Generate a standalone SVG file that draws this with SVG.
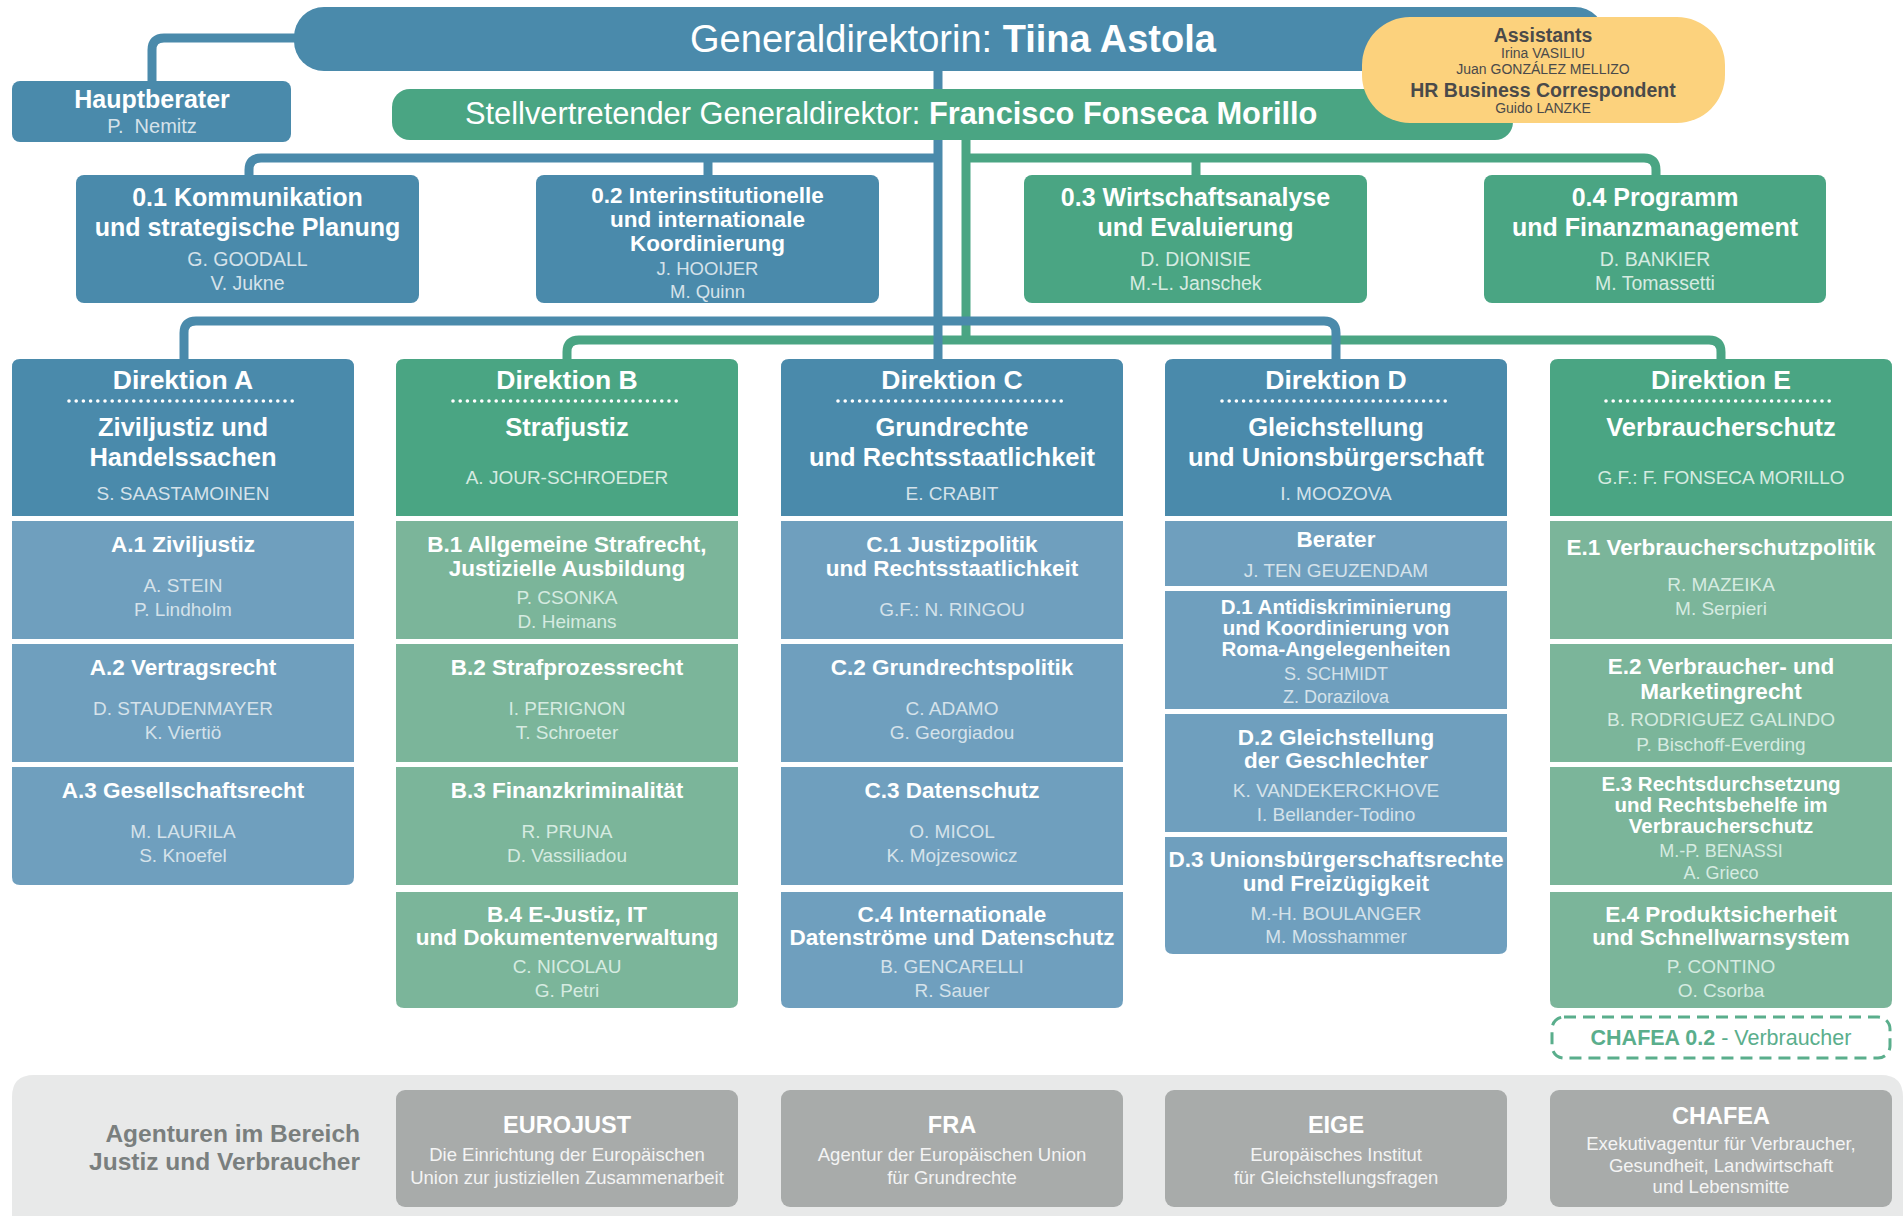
<svg xmlns="http://www.w3.org/2000/svg" width="1903" height="1216" viewBox="0 0 1903 1216">
<style>
text{font-family:"Liberation Sans",Arial,sans-serif;text-anchor:middle}
.bd{fill:#4a8aab}.gd{fill:#4aa583}.bl{fill:#6f9fbe}.gl{fill:#7bb59a}
.ln{fill:none;stroke-width:9;stroke-linejoin:round}
.lb{stroke:#4a8aab}.lg{stroke:#4aa583}
.dots{fill:none;stroke:#fff;stroke-width:3.6;stroke-linecap:round;stroke-dasharray:0 7.2}
.h1{font-size:26.5px;font-weight:bold;fill:#fff}
.h2{font-size:25.5px;font-weight:bold;fill:#fff}
.st{font-size:22.5px;font-weight:bold;fill:#fff}
.sts{font-size:20.5px;font-weight:bold;fill:#fff}
.ot{font-size:25px;font-weight:bold;fill:#fff}
.ots{font-size:22.5px;font-weight:bold;fill:#fff}
.nb{font-size:19px;fill:#d5e2ea}
.ng{font-size:19px;fill:#d6ebe1}
.nbs{font-size:18px;fill:#d5e2ea}
.ngs{font-size:18px;fill:#d6ebe1}
.on{font-size:19.5px;fill:#d5e2ea}
.ons{font-size:18.5px;fill:#d5e2ea}
.ong{font-size:19.5px;fill:#d6ebe1}
.as{fill:#4a4a4a}
.ag{fill:#a8abaa}
.at{font-size:23.5px;font-weight:bold;fill:#fff}
.ad{font-size:18.5px;fill:#f4f4f4}
</style>

<g id="agency-panel">
<path d="M12,1216 V1097 Q12,1075 34,1075 H1881 Q1903,1075 1903,1097 V1216 Z" fill="#e8e9e9"/>
<text x="360" y="1142" style="text-anchor:end;font-size:24.5px;font-weight:bold;fill:#7a7f7e">Agenturen im Bereich</text>
<text x="360" y="1170" style="text-anchor:end;font-size:24.5px;font-weight:bold;fill:#7a7f7e">Justiz und Verbraucher</text>
</g>

<g id="connectors">
<path class="ln lg" d="M966,140 V340"/>
<path class="ln lg" d="M966,158 H1644 Q1656,158 1656,170 V176"/>
<path class="ln lg" d="M1196,158 V176"/>
<path class="ln lg" d="M567,360 V352 Q567,340 579,340 H1709 Q1721,340 1721,352 V360"/>
<path class="ln lb" d="M152,82 V50 Q152,38 164,38 H300"/>
<path class="ln lb" d="M938,71 V360"/>
<path class="ln lb" d="M938,158 H261 Q249,158 249,170 V176"/>
<path class="ln lb" d="M708,158 V176"/>
<path class="ln lb" d="M184,360 V333 Q184,321 196,321 H1324 Q1336,321 1336,333 V360"/>
</g>

<g id="generaldirektorin">
<rect x="294" y="7" width="1311" height="64" rx="30" class="bd"/>
<text x="953" y="52" style="font-size:38px;fill:#fff">Generaldirektorin: <tspan font-weight="bold">Tiina Astola</tspan></text>
</g>

<g id="hauptberater">
<rect x="12" y="81" width="279" height="61" rx="8" class="bd"/>
<text x="152" y="108" style="font-size:25px;font-weight:bold;fill:#fff">Hauptberater</text>
<text x="152" y="133" style="font-size:20px;fill:#d5e2ea;white-space:pre">P.  Nemitz</text>
</g>

<g id="stellvertretender">
<rect x="392" y="89" width="1121" height="51" rx="18" class="gd"/>
<text x="465" y="124" style="text-anchor:start;font-size:30.8px;fill:#fff">Stellvertretender Generaldirektor: <tspan font-weight="bold">Francisco Fonseca Morillo</tspan></text>
</g>

<g id="assistants">
<rect x="1362" y="17" width="363" height="106" rx="48" fill="#fcd27d"/>
<text x="1543" y="42" class="as" style="font-size:19.5px;font-weight:bold">Assistants</text>
<text x="1543" y="58" class="as" style="font-size:14px">Irina VASILIU</text>
<text x="1543" y="74" class="as" style="font-size:14px">Juan GONZÁLEZ MELLIZO</text>
<text x="1543" y="97" class="as" style="font-size:19.5px;font-weight:bold">HR Business Correspondent</text>
<text x="1543" y="113" class="as" style="font-size:14px">Guido LANZKE</text>
</g>

<g id="unit-0-1">
<rect x="76" y="175" width="343" height="128" rx="8" class="bd"/>
<text x="247.5" y="206" class="ot">0.1 Kommunikation</text>
<text x="247.5" y="236" class="ot">und strategische Planung</text>
<text x="247.5" y="266" class="on">G. GOODALL</text>
<text x="247.5" y="290" class="on">V. Jukne</text>
</g>
<g id="unit-0-2">
<rect x="536" y="175" width="343" height="128" rx="8" class="bd"/>
<text x="707.5" y="203" class="ots">0.2 Interinstitutionelle</text>
<text x="707.5" y="227" class="ots">und internationale</text>
<text x="707.5" y="251" class="ots">Koordinierung</text>
<text x="707.5" y="275" class="ons">J. HOOIJER</text>
<text x="707.5" y="298" class="ons">M. Quinn</text>
</g>
<g id="unit-0-3">
<rect x="1024" y="175" width="343" height="128" rx="8" class="gd"/>
<text x="1195.5" y="206" class="ot">0.3 Wirtschaftsanalyse</text>
<text x="1195.5" y="236" class="ot">und Evaluierung</text>
<text x="1195.5" y="266" class="ong">D. DIONISIE</text>
<text x="1195.5" y="290" class="ong">M.-L. Janschek</text>
</g>
<g id="unit-0-4">
<rect x="1484" y="175" width="342" height="128" rx="8" class="gd"/>
<text x="1655" y="206" class="ot">0.4 Programm</text>
<text x="1655" y="236" class="ot">und Finanzmanagement</text>
<text x="1655" y="266" class="ong">D. BANKIER</text>
<text x="1655" y="290" class="ong">M. Tomassetti</text>
</g>

<g id="direktion-a">
<path class="bd" d="M12,516 V367 Q12,359 20,359 H346 Q354,359 354,367 V516 Z"/>
<text x="183" y="389" class="h1">Direktion A</text>
<path class="dots" d="M69,401 H298"/>
<text x="183" y="436" class="h2">Ziviljustiz und</text>
<text x="183" y="466" class="h2">Handelssachen</text>
<text x="183" y="500" class="nb">S. SAASTAMOINEN</text>
</g>
<g id="a1">
<rect x="12" y="521" width="342" height="118" class="bl"/>
<text x="183" y="552" class="st">A.1 Ziviljustiz</text>
<text x="183" y="592" class="nb">A. STEIN</text>
<text x="183" y="616" class="nb">P. Lindholm</text>
</g>
<g id="a2">
<rect x="12" y="644" width="342" height="118" class="bl"/>
<text x="183" y="675" class="st">A.2 Vertragsrecht</text>
<text x="183" y="715" class="nb">D. STAUDENMAYER</text>
<text x="183" y="739" class="nb">K. Viertiö</text>
</g>
<g id="a3">
<path class="bl" d="M12,767 H354 V877 Q354,885 346,885 H20 Q12,885 12,877 Z"/>
<text x="183" y="798" class="st">A.3 Gesellschaftsrecht</text>
<text x="183" y="838" class="nb">M. LAURILA</text>
<text x="183" y="862" class="nb">S. Knoefel</text>
</g>

<g id="direktion-b">
<path class="gd" d="M396,516 V367 Q396,359 404,359 H730 Q738,359 738,367 V516 Z"/>
<text x="567" y="389" class="h1">Direktion B</text>
<path class="dots" d="M453,401 H682"/>
<text x="567" y="436" class="h2">Strafjustiz</text>
<text x="567" y="484" class="ng">A. JOUR-SCHROEDER</text>
</g>
<g id="b1">
<rect x="396" y="521" width="342" height="118" class="gl"/>
<text x="567" y="552" class="st">B.1 Allgemeine Strafrecht,</text>
<text x="567" y="576" class="st">Justizielle Ausbildung</text>
<text x="567" y="604" class="ng">P. CSONKA</text>
<text x="567" y="628" class="ng">D. Heimans</text>
</g>
<g id="b2">
<rect x="396" y="644" width="342" height="118" class="gl"/>
<text x="567" y="675" class="st">B.2 Strafprozessrecht</text>
<text x="567" y="715" class="ng">I. PERIGNON</text>
<text x="567" y="739" class="ng">T. Schroeter</text>
</g>
<g id="b3">
<rect x="396" y="767" width="342" height="118" class="gl"/>
<text x="567" y="798" class="st">B.3 Finanzkriminalität</text>
<text x="567" y="838" class="ng">R. PRUNA</text>
<text x="567" y="862" class="ng">D. Vassiliadou</text>
</g>
<g id="b4">
<path class="gl" d="M396,892 H738 V1000 Q738,1008 730,1008 H404 Q396,1008 396,1000 Z"/>
<text x="567" y="922" class="st">B.4 E-Justiz, IT</text>
<text x="567" y="945" class="st">und Dokumentenverwaltung</text>
<text x="567" y="973" class="ng">C. NICOLAU</text>
<text x="567" y="997" class="ng">G. Petri</text>
</g>

<g id="direktion-c">
<path class="bd" d="M781,516 V367 Q781,359 789,359 H1115 Q1123,359 1123,367 V516 Z"/>
<text x="952" y="389" class="h1">Direktion C</text>
<path class="dots" d="M838,401 H1067"/>
<text x="952" y="436" class="h2">Grundrechte</text>
<text x="952" y="466" class="h2">und Rechtsstaatlichkeit</text>
<text x="952" y="500" class="nb">E. CRABIT</text>
</g>
<g id="c1">
<rect x="781" y="521" width="342" height="118" class="bl"/>
<text x="952" y="552" class="st">C.1 Justizpolitik</text>
<text x="952" y="576" class="st">und Rechtsstaatlichkeit</text>
<text x="952" y="616" class="nb">G.F.: N. RINGOU</text>
</g>
<g id="c2">
<rect x="781" y="644" width="342" height="118" class="bl"/>
<text x="952" y="675" class="st">C.2 Grundrechtspolitik</text>
<text x="952" y="715" class="nb">C. ADAMO</text>
<text x="952" y="739" class="nb">G. Georgiadou</text>
</g>
<g id="c3">
<rect x="781" y="767" width="342" height="118" class="bl"/>
<text x="952" y="798" class="st">C.3 Datenschutz</text>
<text x="952" y="838" class="nb">O. MICOL</text>
<text x="952" y="862" class="nb">K. Mojzesowicz</text>
</g>
<g id="c4">
<path class="bl" d="M781,892 H1123 V1000 Q1123,1008 1115,1008 H789 Q781,1008 781,1000 Z"/>
<text x="952" y="922" class="st">C.4 Internationale</text>
<text x="952" y="945" class="st">Datenströme und Datenschutz</text>
<text x="952" y="973" class="nb">B. GENCARELLI</text>
<text x="952" y="997" class="nb">R. Sauer</text>
</g>

<g id="direktion-d">
<path class="bd" d="M1165,516 V367 Q1165,359 1173,359 H1499 Q1507,359 1507,367 V516 Z"/>
<text x="1336" y="389" class="h1">Direktion D</text>
<path class="dots" d="M1222,401 H1451"/>
<text x="1336" y="436" class="h2">Gleichstellung</text>
<text x="1336" y="466" class="h2">und Unionsbürgerschaft</text>
<text x="1336" y="500" class="nb">I. MOOZOVA</text>
</g>
<g id="d-berater">
<rect x="1165" y="521" width="342" height="65" class="bl"/>
<text x="1336" y="547" class="st">Berater</text>
<text x="1336" y="577" class="nb">J. TEN GEUZENDAM</text>
</g>
<g id="d1">
<rect x="1165" y="591" width="342" height="118" class="bl"/>
<text x="1336" y="614" class="sts">D.1 Antidiskriminierung</text>
<text x="1336" y="635" class="sts">und Koordinierung von</text>
<text x="1336" y="656" class="sts">Roma-Angelegenheiten</text>
<text x="1336" y="680" class="nbs">S. SCHMIDT</text>
<text x="1336" y="703" class="nbs">Z. Dorazilova</text>
</g>
<g id="d2">
<rect x="1165" y="714" width="342" height="118" class="bl"/>
<text x="1336" y="745" class="st">D.2 Gleichstellung</text>
<text x="1336" y="768" class="st">der Geschlechter</text>
<text x="1336" y="797" class="nb">K. VANDEKERCKHOVE</text>
<text x="1336" y="821" class="nb">I. Bellander-Todino</text>
</g>
<g id="d3">
<path class="bl" d="M1165,837 H1507 V946 Q1507,954 1499,954 H1173 Q1165,954 1165,946 Z"/>
<text x="1336" y="867" class="st">D.3 Unionsbürgerschaftsrechte</text>
<text x="1336" y="891" class="st">und Freizügigkeit</text>
<text x="1336" y="920" class="nb">M.-H. BOULANGER</text>
<text x="1336" y="943" class="nb">M. Mosshammer</text>
</g>

<g id="direktion-e">
<path class="gd" d="M1550,516 V367 Q1550,359 1558,359 H1884 Q1892,359 1892,367 V516 Z"/>
<text x="1721" y="389" class="h1">Direktion E</text>
<path class="dots" d="M1606,401 H1835"/>
<text x="1721" y="436" class="h2">Verbraucherschutz</text>
<text x="1721" y="484" class="ng">G.F.: F. FONSECA MORILLO</text>
</g>
<g id="e1">
<rect x="1550" y="521" width="342" height="118" class="gl"/>
<text x="1721" y="555" class="st">E.1 Verbraucherschutzpolitik</text>
<text x="1721" y="591" class="ng">R. MAZEIKA</text>
<text x="1721" y="615" class="ng">M. Serpieri</text>
</g>
<g id="e2">
<rect x="1550" y="644" width="342" height="118" class="gl"/>
<text x="1721" y="674" class="st">E.2 Verbraucher- und</text>
<text x="1721" y="699" class="st">Marketingrecht</text>
<text x="1721" y="726" class="ng">B. RODRIGUEZ GALINDO</text>
<text x="1721" y="751" class="ng">P. Bischoff-Everding</text>
</g>
<g id="e3">
<rect x="1550" y="767" width="342" height="118" class="gl"/>
<text x="1721" y="791" class="sts">E.3 Rechtsdurchsetzung</text>
<text x="1721" y="812" class="sts">und Rechtsbehelfe im</text>
<text x="1721" y="833" class="sts">Verbraucherschutz</text>
<text x="1721" y="857" class="ngs">M.-P. BENASSI</text>
<text x="1721" y="879" class="ngs">A. Grieco</text>
</g>
<g id="e4">
<path class="gl" d="M1550,892 H1892 V1000 Q1892,1008 1884,1008 H1558 Q1550,1008 1550,1000 Z"/>
<text x="1721" y="922" class="st">E.4 Produktsicherheit</text>
<text x="1721" y="945" class="st">und Schnellwarnsystem</text>
<text x="1721" y="973" class="ng">P. CONTINO</text>
<text x="1721" y="997" class="ng">O. Csorba</text>
</g>
<g id="chafea-unit">
<rect x="1552" y="1017" width="338" height="41" rx="12" fill="none" stroke="#5aae8c" stroke-width="3" stroke-dasharray="12 7"/>
<text x="1721" y="1045" style="font-size:21.5px;fill:#5aae8c"><tspan font-weight="bold">CHAFEA 0.2</tspan> - Verbraucher</text>
</g>

<g id="eurojust">
<rect x="396" y="1090" width="342" height="117" rx="9" class="ag"/>
<text x="567" y="1133" class="at">EUROJUST</text>
<text x="567" y="1161" class="ad">Die Einrichtung der Europäischen</text>
<text x="567" y="1184" class="ad">Union zur justiziellen Zusammenarbeit</text>
</g>
<g id="fra">
<rect x="781" y="1090" width="342" height="117" rx="9" class="ag"/>
<text x="952" y="1133" class="at">FRA</text>
<text x="952" y="1161" class="ad">Agentur der Europäischen Union</text>
<text x="952" y="1184" class="ad">für Grundrechte</text>
</g>
<g id="eige">
<rect x="1165" y="1090" width="342" height="117" rx="9" class="ag"/>
<text x="1336" y="1133" class="at">EIGE</text>
<text x="1336" y="1161" class="ad">Europäisches Institut</text>
<text x="1336" y="1184" class="ad">für Gleichstellungsfragen</text>
</g>
<g id="chafea">
<rect x="1550" y="1090" width="342" height="117" rx="9" class="ag"/>
<text x="1721" y="1124" class="at">CHAFEA</text>
<text x="1721" y="1150" class="ad">Exekutivagentur für Verbraucher,</text>
<text x="1721" y="1172" class="ad">Gesundheit, Landwirtschaft</text>
<text x="1721" y="1193" class="ad">und Lebensmitte</text>
</g>
</svg>
